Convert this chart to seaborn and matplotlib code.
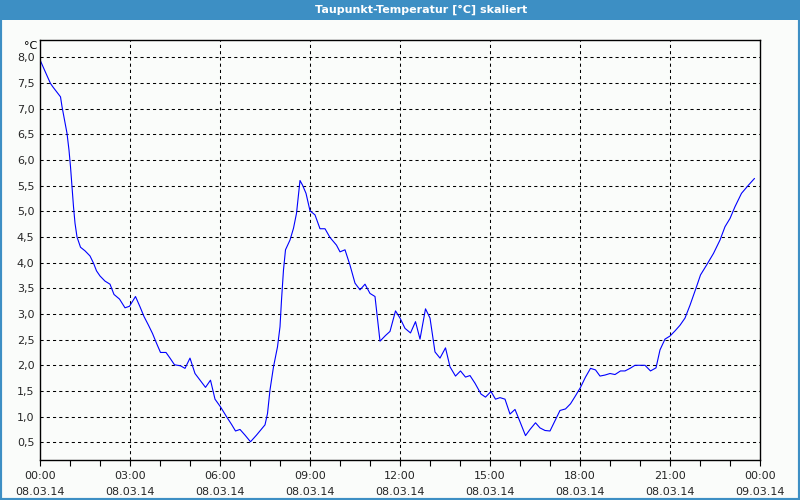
import matplotlib
matplotlib.use("Agg")
import matplotlib.pyplot as plt
from matplotlib.patches import Rectangle
from matplotlib.ticker import FixedLocator, FuncFormatter
import seaborn as sns
import pandas as pd

# Minutes since 08.03.14 00:00
minutes = [0, 9, 15, 21, 26, 33, 41, 44, 49, 54, 58, 61, 64, 67, 70, 74, 81, 90, 100, 107,
           113, 120, 130, 140, 148, 159, 170, 179, 191, 200, 208, 217, 225, 233, 241, 252,
           260, 269, 281, 290, 300, 310, 320, 331, 341, 350, 361, 373, 383, 391, 400, 410,
           421, 433, 450, 455, 460, 467, 475, 480, 483, 487, 491, 500, 507, 513, 520, 525,
           532, 540, 550, 560, 570, 580, 593, 600, 610, 620, 630, 640, 650, 660, 670, 680,
           691, 700, 711, 720, 730, 741, 751, 760, 771, 780, 790, 800, 811, 820, 831, 841,
           851, 860, 870, 882, 891, 902, 911, 920, 930, 940, 950, 960, 971, 980, 991, 1000,
           1010, 1020, 1030, 1040, 1051, 1061, 1070, 1081, 1091, 1101, 1111, 1120, 1130,
           1140, 1150, 1161, 1170, 1180, 1190, 1210, 1221, 1232, 1240, 1250, 1260, 1270,
           1280, 1290, 1300, 1313, 1321, 1333, 1347, 1360, 1370, 1380, 1390, 1403, 1417, 1429]
dewpoint = [7.95, 7.75, 7.62, 7.49, 7.42, 7.33, 7.23, 7.04, 6.78, 6.52, 6.19, 5.87, 5.48, 5.09,
            4.77, 4.50, 4.30, 4.23, 4.13, 3.99, 3.84, 3.74, 3.64, 3.58, 3.38, 3.29, 3.12, 3.15,
            3.34, 3.14, 2.95, 2.78, 2.62, 2.43, 2.25, 2.25, 2.14, 2.01, 1.99, 1.94, 2.14, 1.84,
            1.71, 1.57, 1.71, 1.34, 1.19, 1.00, 0.85, 0.72, 0.75, 0.64, 0.51, 0.64, 0.84, 1.06,
            1.52, 1.97, 2.36, 2.75, 3.27, 3.86, 4.25, 4.44, 4.67, 4.96, 5.60, 5.51, 5.35, 5.01,
            4.93, 4.66, 4.66, 4.49, 4.34, 4.21, 4.25, 3.95, 3.60, 3.47, 3.58, 3.40, 3.34, 2.47,
            2.58, 2.66, 3.06, 2.92, 2.72, 2.63, 2.85, 2.51, 3.10, 2.92, 2.26, 2.14, 2.34, 1.97,
            1.79, 1.89, 1.77, 1.80, 1.65, 1.44, 1.38, 1.49, 1.34, 1.37, 1.34, 1.05, 1.14, 0.90,
            0.63, 0.75, 0.88, 0.78, 0.73, 0.72, 0.92, 1.12, 1.15, 1.25, 1.39, 1.57, 1.77, 1.94,
            1.91, 1.79, 1.81, 1.84, 1.82, 1.89, 1.89, 1.94, 2.00, 2.00, 1.89, 1.95, 2.30, 2.51,
            2.57, 2.67, 2.78, 2.92, 3.17, 3.53, 3.76, 3.95, 4.18, 4.44, 4.70, 4.86, 5.09, 5.35,
            5.51, 5.64]

x_tick_minutes = [0, 180, 360, 540, 720, 900, 1080, 1260, 1440]
x_tick_labels = ["00:00\n08.03.14", "03:00\n08.03.14", "06:00\n08.03.14", "09:00\n08.03.14",
                 "12:00\n08.03.14", "15:00\n08.03.14", "18:00\n08.03.14", "21:00\n08.03.14",
                 "00:00\n09.03.14"]
y_ticks = [0.5, 1.0, 1.5, 2.0, 2.5, 3.0, 3.5, 4.0, 4.5, 5.0, 5.5, 6.0, 6.5, 7.0, 7.5, 8.0]
title = "Taupunkt-Temperatur [°C] skaliert"
unit = "°C"

df = pd.DataFrame({"minute": minutes, "value": dewpoint})

sns.set_style("white")
plt.rcParams["font.family"] = ["DejaVu Sans"]

BG = "#fafcfa"
BLUE = "#3d8fc4"

fig = plt.figure(figsize=(8, 5), dpi=100, facecolor=BG)
ax = fig.add_axes([40 / 800, 40 / 500, 720 / 800, 420 / 500])
ax.set_facecolor(BG)

sns.lineplot(data=df, x="minute", y="value", ax=ax, color="#0000ff", linewidth=0.8)

ax.set_xlim(0, 1440)
ax.set_ylim(0.155, 8.337)
ax.set_xlabel("")
ax.set_ylabel("")

ax.xaxis.set_major_locator(FixedLocator(x_tick_minutes))
ax.xaxis.set_minor_locator(FixedLocator(list(range(0, 1441, 60))))
ax.set_xticklabels(x_tick_labels, fontsize=8, linespacing=1.75)
ax.set_yticks(y_ticks)
ax.yaxis.set_major_formatter(FuncFormatter(lambda v, p: f"{v:.1f}".replace(".", ",")))
for lab in ax.get_yticklabels():
    lab.set_fontsize(8)

ax.tick_params(axis="x", which="both", direction="out", length=4, width=0.8,
               color="black", pad=4, bottom=True)
ax.tick_params(axis="y", which="both", length=0, pad=4, left=True)

dash = (0, (3, 3))
ax.grid(False)
for yv in y_ticks:
    ax.axhline(yv, color="black", linewidth=0.75, linestyle=dash, zorder=0)
for xv in x_tick_minutes[1:-1]:
    ax.axvline(xv, color="black", linewidth=0.75, linestyle=dash, zorder=0)

for s in ax.spines.values():
    s.set_visible(True)
    s.set_color("black")
    s.set_linewidth(1.0)

# title bar
fig.patches.append(Rectangle((0, 480 / 500), 1, 20 / 500, transform=fig.transFigure,
                             facecolor=BLUE, edgecolor="none", zorder=0))
# outer frame
fig.patches.append(Rectangle((0, 0), 1, 1, transform=fig.transFigure,
                             facecolor="none", edgecolor=BLUE, linewidth=3, zorder=5))
fig.text(421 / 800, 1 - 10 / 500, title, color="white", fontsize=8, fontweight="bold",
         ha="center", va="center")
fig.text(37 / 800, 1 - 46 / 500, unit, color="black", fontsize=8, ha="right", va="center")

fig.savefig("out.png", dpi=100, facecolor=BG)
